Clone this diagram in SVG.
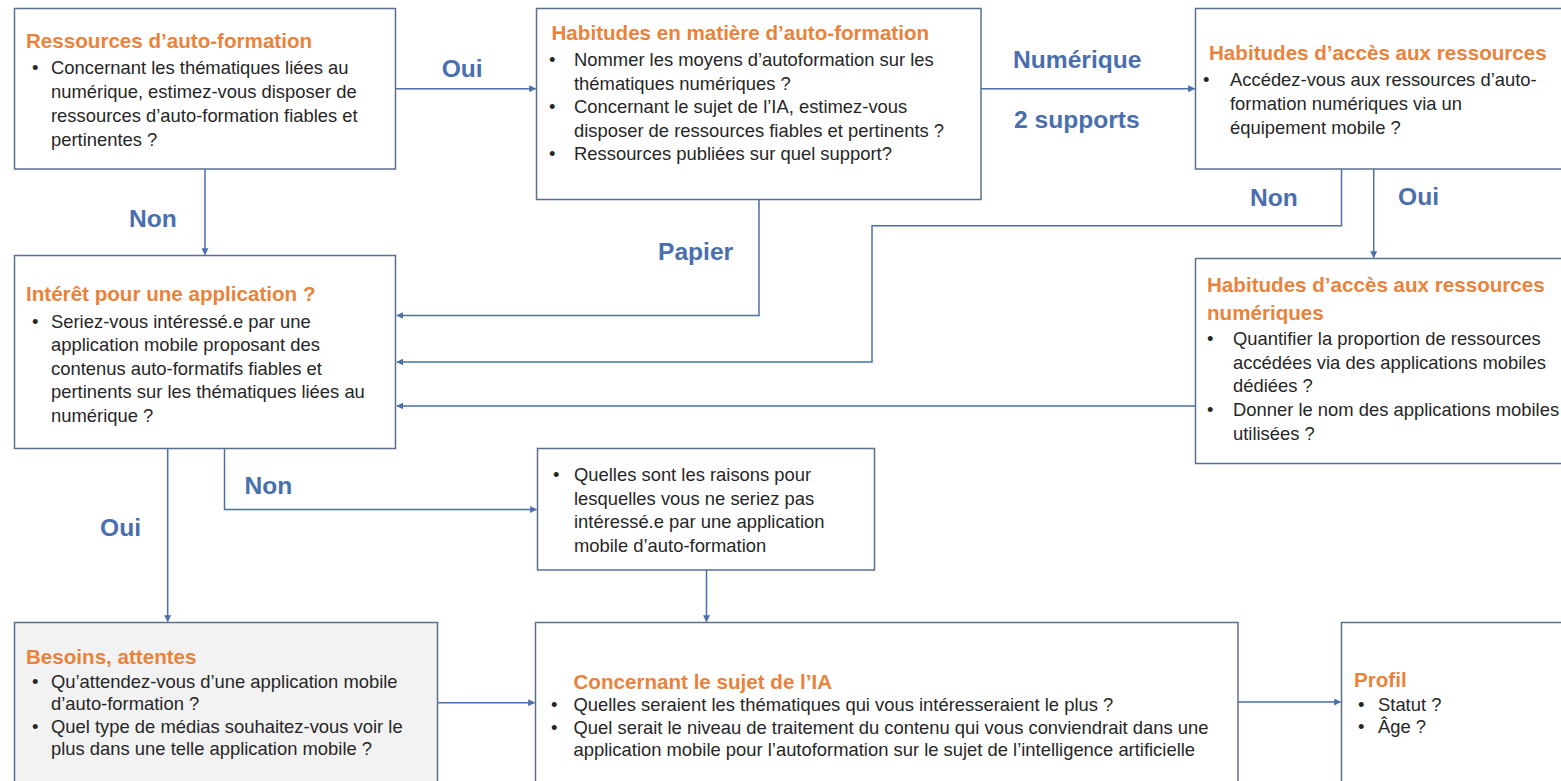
<svg xmlns="http://www.w3.org/2000/svg" width="1561" height="781" viewBox="0 0 1561 781">
  <defs>
    <marker id="arr" viewBox="0 0 10 10" refX="9" refY="5" markerWidth="7" markerHeight="7" markerUnits="userSpaceOnUse" orient="auto">
      <path d="M0,0 L10,5 L0,10 Z" fill="#4a6fab"/>
    </marker>
    <style>
      .box{fill:#ffffff;stroke:#5a6f8e;stroke-width:1.5}
      .grey{fill:#f2f2f3}
      .t{font-family:"Liberation Sans",Arial,sans-serif;font-weight:bold;font-size:20.6px;fill:#e9833c}
      .b{font-family:"Liberation Sans",Arial,sans-serif;font-size:18.4px;fill:#262626}
      .lab{font-family:"Liberation Sans",Arial,sans-serif;font-weight:bold;font-size:24.6px;fill:#4a6fae}
      .c{fill:none;stroke:#4a6fab;stroke-width:1.5}
      .ca{fill:none;stroke:#4a6fab;stroke-width:1.5;marker-end:url(#arr)}
    </style>
  </defs>
  <rect width="1561" height="781" fill="#ffffff"/>

  <g id="connectors">
    <path class="ca" d="M395.5,88.7 H535.5"/>
    <path class="ca" d="M205,169 V254.5"/>
    <path class="ca" d="M981,88.7 H1194.5"/>
    <path class="ca" d="M759,199.5 V315.5 H397"/>
    <path class="ca" d="M1341.5,169 V225.7 H872 V362 H397"/>
    <path class="ca" d="M1373.7,169 V257.5"/>
    <path class="ca" d="M1195.5,406 H397"/>
    <path class="ca" d="M167.7,448.5 V621.5"/>
    <path class="ca" d="M224.5,448.5 V509.5 H536.5"/>
    <path class="ca" d="M706.5,570 V621.5"/>
    <path class="ca" d="M437.5,702.7 H534.5"/>
    <path class="ca" d="M1238,702 H1340.5"/>
    <text class="lab" x="441.7" y="77">Oui</text>
    <text class="lab" x="129" y="227">Non</text>
    <text class="lab" x="1013" y="68">Numérique</text>
    <text class="lab" x="1014" y="128">2 supports</text>
    <text class="lab" x="658" y="260">Papier</text>
    <text class="lab" x="1250" y="206">Non</text>
    <text class="lab" x="1398" y="205">Oui</text>
    <text class="lab" x="244.5" y="494">Non</text>
    <text class="lab" x="100" y="536">Oui</text>
  </g>

  <g id="n1">
    <rect class="box" x="14.5" y="8.5" width="381" height="160.5"/>
    <text class="t" x="26" y="47.5">Ressources d’auto-formation</text>
    <text class="b" x="32" y="73.5">•</text>
    <text class="b" x="51" y="73.5">Concernant les thématiques liées au</text>
    <text class="b" x="51" y="97.5">numérique, estimez-vous disposer de</text>
    <text class="b" x="51" y="121.5">ressources d’auto-formation fiables et</text>
    <text class="b" x="51" y="145.5">pertinentes ?</text>
  </g>

  <g id="n2">
    <rect class="box" x="536.5" y="8.5" width="444.5" height="191"/>
    <text class="t" x="551.5" y="40">Habitudes en matière d’auto-formation</text>
    <text class="b" x="549" y="66">•</text>
    <text class="b" x="574" y="66">Nommer les moyens d’autoformation sur les</text>
    <text class="b" x="574" y="89.5">thématiques numériques ?</text>
    <text class="b" x="549" y="113">•</text>
    <text class="b" x="574" y="113">Concernant le sujet de l’IA, estimez-vous</text>
    <text class="b" x="574" y="136.5">disposer de ressources fiables et pertinents  ?</text>
    <text class="b" x="549" y="160">•</text>
    <text class="b" x="574" y="160">Ressources publiées sur quel support?</text>
  </g>

  <g id="n3">
    <rect class="box" x="1195.5" y="8.5" width="400" height="160.5"/>
    <text class="t" x="1209" y="60">Habitudes d’accès aux ressources</text>
    <text class="b" x="1203" y="86">•</text>
    <text class="b" x="1230" y="86">Accédez-vous aux ressources d’auto-</text>
    <text class="b" x="1230" y="110">formation numériques via un</text>
    <text class="b" x="1230" y="134">équipement mobile ?</text>
  </g>

  <g id="n4">
    <rect class="box" x="14.5" y="255.5" width="381" height="193"/>
    <text class="t" x="26" y="301">Intérêt pour une application ?</text>
    <text class="b" x="32" y="327.5">•</text>
    <text class="b" x="51" y="327.5">Seriez-vous intéressé.e par une</text>
    <text class="b" x="51" y="351">application mobile proposant des</text>
    <text class="b" x="51" y="374.5">contenus auto-formatifs fiables et</text>
    <text class="b" x="51" y="398">pertinents sur les thématiques liées au</text>
    <text class="b" x="51" y="421.5">numérique ?</text>
  </g>

  <g id="n5">
    <rect class="box" x="1195.5" y="258.5" width="400" height="205"/>
    <text class="t" x="1207" y="292">Habitudes d’accès aux ressources</text>
    <text class="t" x="1207" y="320">numériques</text>
    <text class="b" x="1207" y="345">•</text>
    <text class="b" x="1233" y="345">Quantifier la proportion de ressources</text>
    <text class="b" x="1233" y="368.5">accédées via des applications mobiles</text>
    <text class="b" x="1233" y="392">dédiées ?</text>
    <text class="b" x="1207" y="416">•</text>
    <text class="b" x="1233" y="416">Donner le nom des applications mobiles</text>
    <text class="b" x="1233" y="440">utilisées ?</text>
  </g>

  <g id="n6">
    <rect class="box" x="537.5" y="448.5" width="337" height="121.5"/>
    <text class="b" x="553" y="481">•</text>
    <text class="b" x="574" y="481">Quelles sont les raisons pour</text>
    <text class="b" x="574" y="504.5">lesquelles vous ne seriez pas</text>
    <text class="b" x="574" y="528">intéressé.e par une application</text>
    <text class="b" x="574" y="551.5">mobile d’auto-formation</text>
  </g>

  <g id="n7">
    <rect class="box grey" x="14.5" y="622.5" width="423" height="180"/>
    <text class="t" x="26" y="664">Besoins, attentes</text>
    <text class="b" x="32" y="688">•</text>
    <text class="b" x="51" y="688">Qu’attendez-vous d’une application mobile</text>
    <text class="b" x="51" y="710">d’auto-formation ?</text>
    <text class="b" x="32" y="733">•</text>
    <text class="b" x="51" y="733">Quel type de médias souhaitez-vous voir le</text>
    <text class="b" x="51" y="755">plus dans une telle application mobile ?</text>
  </g>

  <g id="n8">
    <rect class="box" x="535.5" y="622.5" width="702.5" height="180"/>
    <text class="t" x="573.5" y="689">Concernant le sujet de l’IA</text>
    <text class="b" x="551" y="711">•</text>
    <text class="b" x="573.5" y="711">Quelles seraient les thématiques qui vous intéresseraient le plus ?</text>
    <text class="b" x="551" y="733.5">•</text>
    <text class="b" x="573.5" y="733.5">Quel serait le niveau de traitement du contenu qui vous conviendrait dans une</text>
    <text class="b" x="573.5" y="756">application mobile pour l’autoformation sur le sujet de l’intelligence artificielle</text>
  </g>

  <g id="n9">
    <rect class="box" x="1341.5" y="622.5" width="260" height="180"/>
    <text class="t" x="1354" y="687">Profil</text>
    <text class="b" x="1358" y="711">•</text>
    <text class="b" x="1378" y="711">Statut ?</text>
    <text class="b" x="1358" y="733">•</text>
    <text class="b" x="1378" y="733">Âge ?</text>
  </g>
</svg>
